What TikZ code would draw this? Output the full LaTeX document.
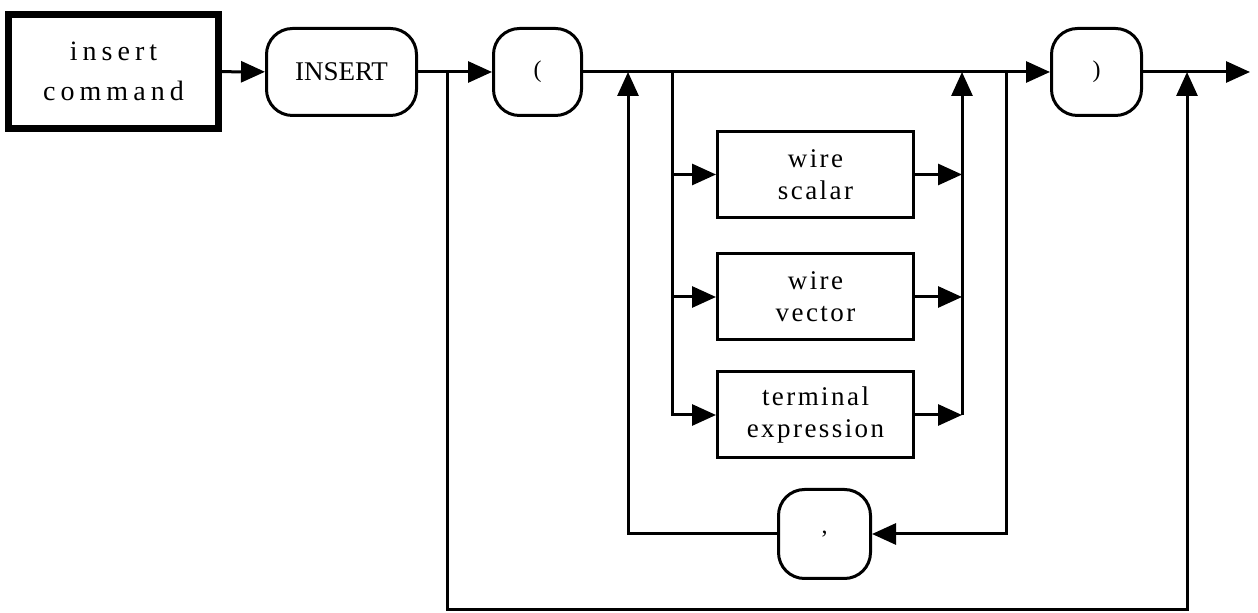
\documentclass[tikz,border=0pt]{standalone}
\usepackage{fontspec}
\setmainfont{Liberation Serif}
\newfontfamily\spacedfont[LetterSpace=9]{Liberation Serif}
\newfontfamily\widefont[LetterSpace=18]{Liberation Serif}
\usetikzlibrary{arrows.meta}

\begin{document}
\begin{tikzpicture}[x=0.5pt,y=-0.5pt,line width=1.5pt,
  >={Triangle[length=12pt,width=10.5pt]},
  term/.style={draw,rounded corners=13pt,inner sep=0pt,minimum width=44pt,
    minimum height=43.5pt,font=\fontsize{12}{14}\selectfont},
  nonterm/.style={draw,inner sep=0pt,minimum width=98pt,minimum height=43pt,
    align=center,font=\spacedfont\fontsize{13.5}{16}\selectfont}]
  \useasboundingbox (0,0) rectangle (1258,613);
  \node[draw,line width=3.5pt,inner sep=0pt,minimum width=105pt,minimum height=57pt,
    align=center,font=\widefont\fontsize{14}{20}\selectfont] (cmd) at (113.5,71.5) {insert\\command};
  \node[term,minimum width=75pt,font=\fontsize{13.5}{15}\selectfont] (ins) at (341.5,72) {INSERT};
  \node[term] (lp) at (537.5,72) {(};
  \node[term,minimum width=45pt] (rp) at (1096.5,72) {)};
  \node[term,minimum width=46pt,minimum height=44.5pt] (comma) at (824.5,534) {,};
  \node[nonterm] (scalar) at (815.5,174.5) {wire\\scalar};
  \node[nonterm] (vector) at (815.5,297) {wire\\vector};
  \node[nonterm] (texpr) at (815.5,415) {terminal\\expression};
  \coordinate (skip) at (447,72);
  \coordinate (back) at (628,72);
  \coordinate (fork) at (672,72);
  \coordinate (join) at (962,72);
  \coordinate (again) at (1006,72);
  \coordinate (land) at (1187,72);
  \coordinate (exit) at (1250,72);
  \coordinate (bl) at (447,610);
  \coordinate (br) at (1187,610);
  \draw[->] (cmd) -- (ins);
  \draw (ins) -- (skip);
  \draw[->] (skip) -- (lp);
  \draw[->] (lp) -- (rp);
  \draw[->] (rp) -- (exit);
  \draw[->] (skip) -- (bl) -- (br) -- (land);
  \draw[->] (fork) |- (scalar);
  \draw[->] (fork) |- (vector);
  \draw[->] (fork) |- (texpr);
  \draw[->] (scalar) -- (scalar -| join);
  \draw[->] (vector) -- (vector -| join);
  \draw[->] (texpr) -- (texpr -| join);
  \draw[->] (texpr -| join) -- (join);
  \draw[->] (again) |- (comma);
  \draw[->] (comma) -| (back);
\end{tikzpicture}
\end{document}
